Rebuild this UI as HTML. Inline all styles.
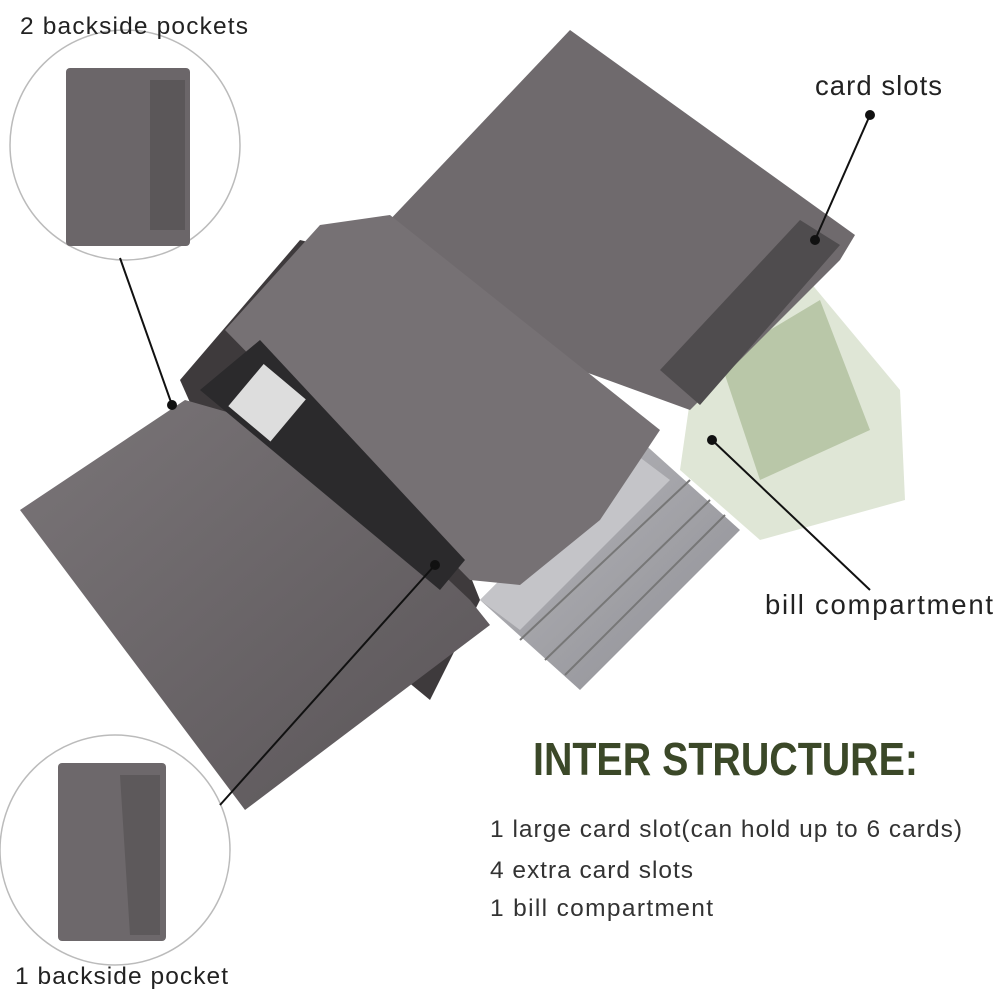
<!DOCTYPE html>
<html><head><meta charset="utf-8"><style>
html,body{margin:0;padding:0;background:#fff;}
svg{display:block}
text{font-family:"Liberation Sans",sans-serif;}
</style></head><body>
<svg width="1000" height="1000" viewBox="0 0 1000 1000" xmlns="http://www.w3.org/2000/svg">
<defs>
<linearGradient id="lg" x1="0" y1="0" x2="1" y2="1">
<stop offset="0" stop-color="#7a7578"/><stop offset="0.5" stop-color="#6a6568"/><stop offset="1" stop-color="#5a5558"/>
</linearGradient>
<linearGradient id="card" x1="0" y1="0" x2="1" y2="1">
<stop offset="0" stop-color="#b8b8bc"/><stop offset="1" stop-color="#8e8e94"/>
</linearGradient>
</defs>
<rect width="1000" height="1000" fill="#fff"/>
<polygon points="700,330 800,270 900,390 905,500 760,540 680,470" fill="#dfe6d6"/>
<polygon points="720,360 820,300 870,430 760,480" fill="#b9c7a8"/>
<polygon points="385,225 570,30 855,235 840,260 690,410 470,330" fill="#6f6a6d"/>
<polygon points="660,370 800,220 840,245 700,405" fill="#4f4c4e"/>
<polygon points="180,380 300,240 340,250 480,600 430,700 260,560" fill="#3e3a3c"/>
<polygon points="20,510 185,400 290,430 470,600 490,625 245,810" fill="url(#lg)"/>
<polygon points="480,600 640,440 740,530 580,690" fill="url(#card)"/>
<polygon points="480,600 630,450 670,480 520,630" fill="#c4c4c8"/>
<line x1="520" y1="640" x2="690" y2="480" stroke="#777" stroke-width="2"/>
<line x1="545" y1="660" x2="710" y2="500" stroke="#777" stroke-width="2"/>
<line x1="565" y1="675" x2="725" y2="515" stroke="#777" stroke-width="2"/>
<polygon points="225,330 320,225 390,215 660,430 600,520 520,585 470,580" fill="#767174"/>
<polygon points="200,390 260,340 465,560 440,590" fill="#2b2a2c"/>
<rect x="240" y="375" width="55" height="55" fill="#ddd" transform="rotate(40 267 402)"/>
<circle cx="125" cy="145" r="115" fill="#fff" stroke="#bbb" stroke-width="1.5"/>
<rect x="66" y="68" width="124" height="178" rx="4" fill="#6b6669"/>
<rect x="150" y="80" width="35" height="150" fill="#5b5759"/>
<circle cx="115" cy="850" r="115" fill="#fff" stroke="#bbb" stroke-width="1.5"/>
<rect x="58" y="763" width="108" height="178" rx="4" fill="#6d686b"/>
<polygon points="120,775 160,775 160,935 130,935" fill="#5d595b"/>
<g stroke="#111" stroke-width="2" fill="#111">
<line x1="120" y1="258" x2="172" y2="405"/><circle cx="172" cy="405" r="4"/>
<line x1="435" y1="565" x2="220" y2="805"/><circle cx="435" cy="565" r="4"/>
<line x1="870" y1="115" x2="815" y2="240"/><circle cx="870" cy="115" r="4"/><circle cx="815" cy="240" r="4"/>
<line x1="870" y1="590" x2="712" y2="440"/><circle cx="712" cy="440" r="4"/>
</g>
<text x="20" y="34" font-size="24.5" fill="#222" textLength="228" lengthAdjust="spacing">2 backside pockets</text>
<text x="15" y="984" font-size="24.5" fill="#222" textLength="213" lengthAdjust="spacing">1 backside pocket</text>
<text x="815" y="95" font-size="27.5" fill="#222" textLength="127" lengthAdjust="spacing">card slots</text>
<text x="765" y="614" font-size="27.5" fill="#222" textLength="228" lengthAdjust="spacing">bill compartment</text>
<text x="533" y="775" font-size="46" font-weight="bold" fill="#3b4828" textLength="385" lengthAdjust="spacingAndGlyphs">INTER STRUCTURE:</text>
<text x="490" y="837" font-size="24.5" fill="#333" textLength="472" lengthAdjust="spacing">1 large card slot(can hold up to 6 cards)</text>
<text x="490" y="878" font-size="24.5" fill="#333" textLength="203" lengthAdjust="spacing">4 extra card slots</text>
<text x="490" y="916" font-size="24.5" fill="#333" textLength="223" lengthAdjust="spacing">1 bill compartment</text>
</svg>
</body></html>
